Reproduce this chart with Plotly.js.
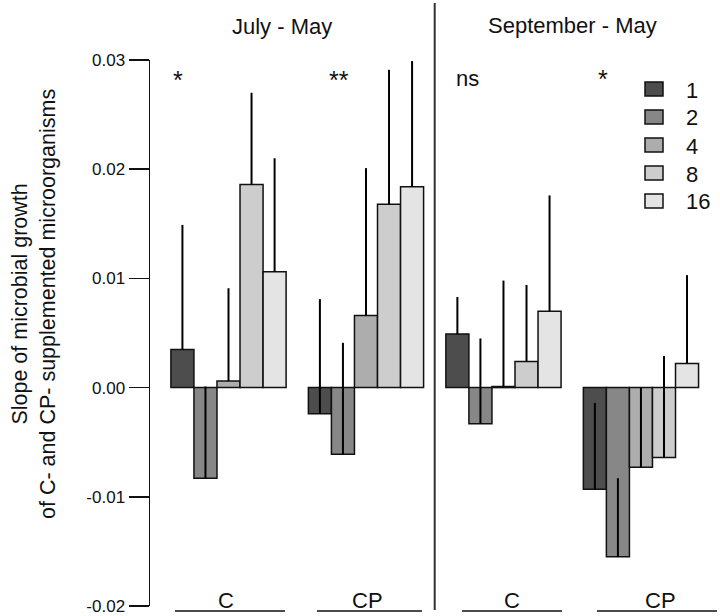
<!DOCTYPE html>
<html>
<head>
<meta charset="utf-8">
<script src="https://cdn.plot.ly/plotly-3.0.1.min.js"></script>
<style>html,body{margin:0;padding:0;background:#fff;}#chart{width:720px;height:616px;}</style>
</head>
<body>
<div id="chart"></div>
<script>
// ---- data ----
var groups = ['July - May C', 'July - May CP', 'September - May C', 'September - May CP'];
var seriesNames = ['1', '2', '4', '8', '16'];
var vals1 = [0.0035, -0.0024, 0.0049, -0.0093];
var vals2 = [-0.0083, -0.0061, -0.0033, -0.0155];
var vals4 = [0.0006, 0.0066, 0.0001, -0.0073];
var vals8 = [0.0186, 0.0168, 0.0024, -0.0064];
var vals16 = [0.0106, 0.0184, 0.0070, 0.0022];
var err1 = [0.0114, 0.0105, 0.0034, 0.0079];
var err2 = [0.0084, 0.0102, 0.0078, 0.0072];
var err4 = [0.0085, 0.0135, 0.0097, 0.0073];
var err8 = [0.0084, 0.0123, 0.0070, 0.0093];
var err16 = [0.0104, 0.0115, 0.0106, 0.0081];
var periodLabels = ['July - May', 'September - May'];
var treatLabels = ['C', 'CP', 'C', 'CP'];
var signifLabels = ['*', '**', 'ns', '*'];
var tickValues = [-0.02, -0.01, 0.00, 0.01, 0.02, 0.03];
var tickLabels = ['-0.02', '-0.01', '0.00', '0.01', '0.02', '0.03'];

var colors = ['#4d4d4d', '#878787', '#adadad', '#cdcdcd', '#e4e4e4'];
var allVals = [vals1, vals2, vals4, vals8, vals16];
var allErr = [err1, err2, err4, err8, err16];

var FONT = 'Liberation Sans, Arial, sans-serif';

var traces = allVals.map(function (v, i) {
  return {
    type: 'bar',
    name: seriesNames[i],
    x: groups,
    y: v,
    showlegend: false,
    marker: { color: colors[i], line: { color: '#111', width: 1.5 } },
    error_y: {
      type: 'data', symmetric: false, array: allErr[i],
      arrayminus: v.map(function () { return 0; }),
      color: '#000', thickness: 2, width: 0
    }
  };
});

// pixel -> paper helpers for decoration placement (plot area: x 150..720, y 60..606)
function px(x) { return (x - 150) / 570; }
function py(y) { return (606 - y) / 546; }

var annotations = [];
function txt(t, x, y, size, anchor) {
  annotations.push({ text: t, xref: 'paper', yref: 'paper', x: px(x), y: py(y),
    xanchor: anchor || 'center', yanchor: 'middle', showarrow: false,
    font: { family: FONT, size: size, color: '#111' } });
}
txt(periodLabels[0], 282, 27, 22);
txt(periodLabels[1], 572, 25, 22);
var treatX = [226, 367, 512, 660];
treatLabels.forEach(function (t, i) { txt(t, treatX[i], 600, 22); });
var sigX = [178, 339, 467, 603];
var sigY = [80, 80, 78, 79];
var sigSize = [25, 25, 22, 25];
signifLabels.forEach(function (t, i) { txt(t, sigX[i], sigY[i], sigSize[i]); });
annotations.push({
  text: 'Slope of microbial growth<br>of C- and CP- supplemented microorganisms',
  xref: 'paper', yref: 'paper', x: px(34), y: py(304), textangle: -90,
  xanchor: 'center', yanchor: 'middle', showarrow: false,
  font: { family: FONT, size: 21.5, color: '#111' }
});

var shapes = [
  { type: 'line', xref: 'paper', yref: 'paper', x0: px(434.7), x1: px(434.7), y0: py(610), y1: py(3),
    line: { color: '#333', width: 2 } }
];
var underlines = [[175, 285], [317, 422], [462, 562], [597, 717]];
underlines.forEach(function (u) {
  shapes.push({ type: 'line', xref: 'paper', yref: 'paper', x0: px(u[0]), x1: px(u[1]), y0: py(611), y1: py(611),
    line: { color: '#111', width: 1.5 } });
});

// legend drawn as key boxes + labels
seriesNames.forEach(function (n, i) {
  var cy = 89 + 28 * i;
  shapes.push({ type: 'rect', xref: 'paper', yref: 'paper',
    x0: px(645), x1: px(663), y0: py(cy - 7), y1: py(cy + 7),
    fillcolor: colors[i], line: { color: '#111', width: 1.5 } });
  txt(n, 684, cy + 1, 22, 'left');
});

var layout = {
  width: 720, height: 616,
  margin: { l: 150, r: 0, t: 60, b: 10, pad: 0 },
  paper_bgcolor: '#fff', plot_bgcolor: '#fff',
  barmode: 'group', bargap: 0.162, bargroupgap: 0,
  font: { family: FONT, color: '#111' },
  xaxis: { type: 'category', range: [-0.571, 3.575], visible: false, fixedrange: true },
  yaxis: {
    range: [-0.02, 0.03], tickvals: tickValues, ticktext: tickLabels,
    showline: true, linecolor: '#111', linewidth: 1.5,
    ticks: 'outside', ticklen: 20, tickwidth: 1.5, tickcolor: '#111',
    showgrid: false, zeroline: false, ticklabeloverflow: 'allow',
    tickfont: { family: FONT, size: 17, color: '#111' }
  },
  showlegend: false,
  annotations: annotations,
  shapes: shapes
};

Plotly.newPlot('chart', traces, layout, { displayModeBar: false, staticPlot: true });
</script>
</body>
</html>
